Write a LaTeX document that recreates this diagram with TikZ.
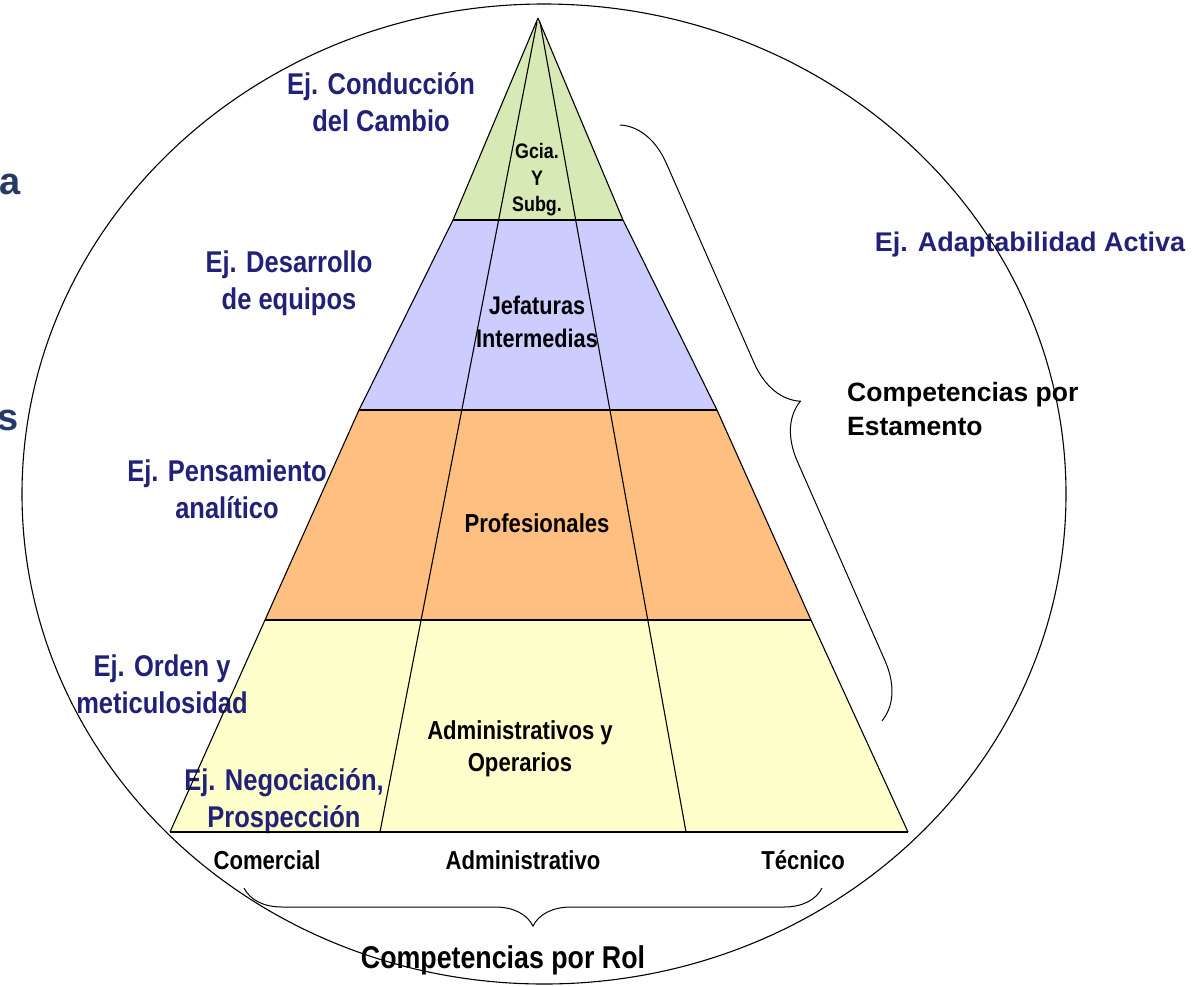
\documentclass[tikz,border=0pt]{standalone}
\usepackage{fontspec}
\setmainfont{Liberation Sans}
\newfontfamily\labfont[FakeStretch=0.85]{Liberation Sans}
\newfontfamily\widefont{Liberation Sans}
\usetikzlibrary{decorations.pathreplacing}
\definecolor{labblue}{RGB}{33,33,122}
\definecolor{slateblue}{RGB}{35,58,100}
\definecolor{fgreen}{RGB}{215,233,180}
\definecolor{flav}{RGB}{204,204,255}
\definecolor{forange}{RGB}{255,191,128}
\definecolor{fyellow}{RGB}{255,255,204}
\tikzset{
  bluelab/.style={text=labblue, font=\labfont\bfseries\fontsize{30}{37}\selectfont, align=center, inner sep=0pt},
  inlab/.style={text=black, font=\labfont\bfseries\fontsize{26}{32}\selectfont, align=center, inner sep=0pt},
  rolelab/.style={text=black, font=\labfont\bfseries\fontsize{26}{30}\selectfont, inner sep=0pt},
  edge/.style={draw=black, line width=1.1pt},
  bracestyle/.style={draw=black, line width=1pt, decorate},
  cutlab/.style={text=slateblue, font=\widefont\bfseries\fontsize{38}{40}\selectfont, inner sep=0pt}
}
\begin{document}
\begin{tikzpicture}[x=1pt,y=-1pt]
\useasboundingbox (0,0) rectangle (1194,986);

% pyramid coordinates
\coordinate (apex) at (538,18);
\coordinate (g1) at (453,220); \coordinate (g2) at (623,220);
\coordinate (l1) at (359,410); \coordinate (l2) at (717,410);
\coordinate (o1) at (265,620); \coordinate (o2) at (811,620);
\coordinate (b1) at (170,832); \coordinate (b2) at (908,832);
\coordinate (ia) at (537,22);  \coordinate (ib) at (380,832);
\coordinate (ja) at (540,22);  \coordinate (jb) at (686,832);

% band fills
\fill[fgreen] (apex) -- (g2) -- (g1) -- cycle;
\fill[flav] (g1) -- (g2) -- (l2) -- (l1) -- cycle;
\fill[forange] (l1) -- (l2) -- (o2) -- (o1) -- cycle;
\fill[fyellow] (o1) -- (o2) -- (b2) -- (b1) -- cycle;

% cut-off letters at the left margin
\node[cutlab, anchor=east] (cuta) at (21,184) {a};
\node[cutlab, anchor=east] (cuts) at (19,420) {s};

% left example labels
\node[bluelab] (conduccion) at (381,102.5) {Ej. Conducción\\del Cambio};
\node[bluelab] (desarrollo) at (289,283.5) {Ej. Desarrollo\\de equipos};
\node[bluelab] (pensamiento) at (227,489.5) {Ej. Pensamiento\\analítico};
\node[bluelab] (orden) at (162,684.5) {Ej. Orden y\\meticulosidad};
\node[bluelab] (negociacion) at (284,801) {Ej. Negociación,\\Prospección};
\node[text=labblue, font=\widefont\bfseries\fontsize{27}{30}\selectfont, inner sep=0pt] (adapt) at (1030,245) {Ej. Adaptabilidad Activa};

% labels inside the pyramid
\node[inlab, font=\labfont\bfseries\fontsize{21}{26.5}\selectfont] (gcia) at (537,180) {Gcia.\\Y\\Subg.};
\node[inlab, font=\labfont\bfseries\fontsize{25.5}{33}\selectfont] (jefat) at (537,321.5) {Jefaturas\\Intermedias};
\node[inlab] (prof) at (537,523) {Profesionales};
\node[inlab] (admin) at (520,748.5) {Administrativos y\\Operarios};

% role labels
\node[rolelab] (comercial) at (267,860) {Comercial};
\node[rolelab] (administrativo) at (523,860) {Administrativo};
\node[rolelab] (tecnico) at (803,860) {Técnico};
\node[text=black, font=\labfont\bfseries\fontsize{31.5}{34}\selectfont, inner sep=0pt] (rol) at (503,960) {Competencias por Rol};
\node[text=black, font=\widefont\bfseries\fontsize{26.5}{34}\selectfont, align=left, inner sep=0pt, anchor=west] (estamento) at (847,409) {Competencias por\\Estamento};

% pyramid lines
\draw[edge] (g1) -- (g2);
\draw[edge] (l1) -- (l2);
\draw[edge] (o1) -- (o2);
\draw[edge, line width=1.8pt] (b1) -- (b2);
\draw[edge] (apex) -- (g1) -- (l1) -- (o1) -- (b1);
\draw[edge] (apex) -- (g2) -- (l2) -- (o2) -- (b2);
\draw[edge] (ia) -- (ib);
\draw[edge] (ja) -- (jb);

% enclosing ellipse
\coordinate (ec) at (544,494);
\draw[line width=1.1pt] (ec) ellipse [x radius=522pt, y radius=490pt];

% braces
\coordinate (rbT) at (620,125); \coordinate (rbB) at (882,721);
\draw[bracestyle, decoration={brace, amplitude=54pt}] (rbT) -- (rbB);
\coordinate (bbR) at (822,888); \coordinate (bbL) at (244,888);
\draw[bracestyle, decoration={brace, amplitude=38pt}] (bbR) -- (bbL);
\end{tikzpicture}
\end{document}
